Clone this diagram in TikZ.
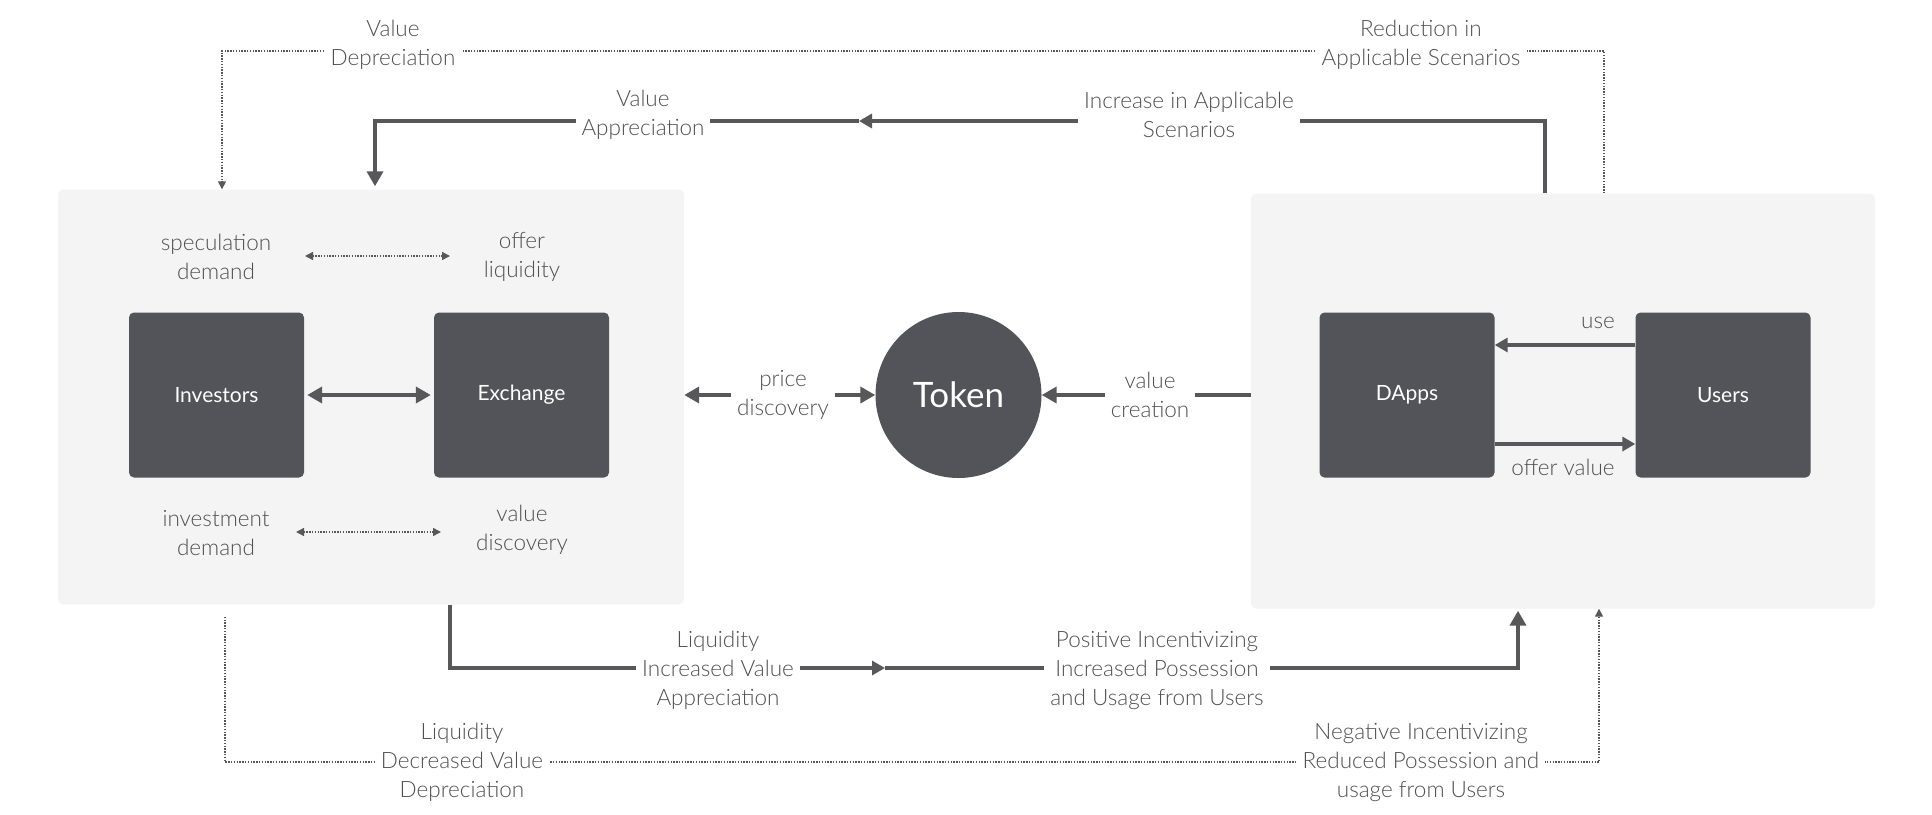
\documentclass[tikz,border=0pt]{standalone}
\usepackage{fontspec}
\IfFontExistsTF{Lato Light}{\setmainfont{Lato Light}}{\setmainfont{Lato}}
\newfontfamily\boxfont{Lato}
\usetikzlibrary{arrows.meta,calc}
\definecolor{panelgray}{HTML}{F4F4F4}
\definecolor{boxgray}{HTML}{525459}
\definecolor{linegray}{HTML}{58585A}
\definecolor{txtgray}{HTML}{505050}
\tikzset{
  panel/.style={fill=panelgray, draw=none, rounded corners=5pt, minimum width=#1},
  darkbox/.style={fill=boxgray, draw=none, rounded corners=5pt, text=white,
    minimum width=175pt, minimum height=165pt, font=\boxfont\fontsize{21}{25}\selectfont},
  lbl/.style={text=txtgray, align=center, font=\fontsize{22.5}{29}\selectfont, inner sep=0pt},
  gaplbl/.style={lbl, fill=white, inner xsep=6pt, inner ysep=3pt},
  thickline/.style={line width=4pt, draw=linegray},
  dotline/.style={line width=1.4pt, draw=linegray, dash pattern=on 1.4pt off 1.4pt},
  bigtip/.tip={Triangle[length=15pt,width=16pt]},
  midtip/.tip={Triangle[length=13pt,width=14pt]},
  smalltip/.tip={Triangle[length=8pt,width=8pt]}
}
\begin{document}
\begin{tikzpicture}[x=1pt,y=-1pt]
\useasboundingbox (0,0) rectangle (1932,814);
% panels
\node[panel=626pt, minimum height=415pt] (lp) at (371,397) {};
\node[panel=624pt, minimum height=415pt] (rp) at (1563,401) {};
% boxes
\node[darkbox] (inv) at (216.5,395) {Investors};
\node[darkbox] (exch) at (521.5,395) {Exchange};
\node[darkbox] (dapps) at (1407,395) {DApps};
\node[darkbox] (users) at (1723,395) {Users};
\node[circle, fill=boxgray, minimum size=166pt, inner sep=0pt, text=white,
      font=\boxfont\fontsize{35}{40}\selectfont] (token) at (958.5,395) {Token};
% helper coordinates
\coordinate (xA) at (1545,0);
\coordinate (xB) at (1604,0);
\coordinate (xC) at (375,0);
\coordinate (xD) at (222,0);
\coordinate (xE) at (450,0);
\coordinate (xF) at (1518,0);
\coordinate (xG) at (225,0);
\coordinate (xH) at (1599,0);
\coordinate (midT) at (859,121);
\coordinate (midB) at (885,668);
\coordinate (topD) at (0,51);
\coordinate (botD) at (0,762);
\coordinate (yuse) at (0,345);
\coordinate (yoff) at (0,444);
\coordinate (d1a) at (305,256);
\coordinate (d1b) at (450,256);
\coordinate (d2a) at (296,532);
\coordinate (d2b) at (441,532);
\coordinate (pdl) at (731,395);
\coordinate (pdr) at (835,395);
\coordinate (vcl) at (1105,395);
\coordinate (vcr) at (1195,395);
% top dotted
\draw[dotline, -{smalltip}] (rp.north -| xB) |- (topD -| xD) -- (lp.north -| xD);
% top thick
\draw[thickline, -{midtip}] (rp.north -| xA) |- (midT);
\draw[thickline, -{bigtip}, shorten >=3pt] (midT) -| (lp.north -| xC);
% bottom thick
\draw[thickline, -{midtip}] (lp.south -| xE) |- (midB);
\draw[thickline, -{bigtip}, shorten >=2pt] (midB) -| (rp.south -| xF);
% bottom dotted
\draw[dotline, -{smalltip}, shorten <=12pt] (lp.south -| xG) |- (botD -| xH) -- (rp.south -| xH);
% inner arrows
\draw[thickline, {bigtip}-{bigtip}, shorten <=3pt, shorten >=3pt] (inv.east) -- (exch.west);
\draw[dotline, {smalltip}-{smalltip}] (d1a) -- (d1b);
\draw[dotline, {smalltip}-{smalltip}] (d2a) -- (d2b);
\draw[thickline, -{bigtip}] (pdl) -- (lp.east |- pdl);
\draw[thickline, -{bigtip}] (pdr) -- (token.west);
\draw[thickline, -{bigtip}] (vcl) -- (token.east);
\draw[thickline] (vcr) -- (rp.west |- vcr);
\draw[thickline, -{midtip}] (users.west |- yuse) -- (dapps.east |- yuse);
\draw[thickline, -{midtip}] (dapps.east |- yoff) -- (users.west |- yoff);
% labels
\node[gaplbl] (lvd) at (393,45) {Value\\Depreciation};
\node[gaplbl] (lred) at (1421,45) {Reduction in\\Applicable Scenarios};
\node[gaplbl] (lva) at (643,115) {Value\\Appreciation};
\node[gaplbl] (linc) at (1189,115) {Increase in Applicable\\Scenarios};
\node[lbl] (lspec) at (216,257) {speculation\\demand};
\node[lbl] (loffl) at (522,257) {offer\\liquidity};
\node[lbl] (linvd) at (216,533) {investment\\demand};
\node[lbl] (lvdis) at (522,530) {value\\discovery};
\node[lbl] (lpd) at (783,395) {price\\discovery};
\node[lbl] (lvc) at (1150,395) {value\\creation};
\node[lbl] (luse) at (1598,323) {use};
\node[lbl] (loffv) at (1563,467) {offer value};
\node[gaplbl] (lliqi) at (718,670) {Liquidity\\Increased Value\\Appreciation};
\node[gaplbl] (lpos) at (1157,670) {Positive Incentivizing\\Increased Possession\\and Usage from Users};
\node[gaplbl] (lliqd) at (462,762) {Liquidity\\Decreased Value\\Depreciation};
\node[gaplbl] (lneg) at (1421,762) {Negative Incentivizing\\Reduced Possession and\\usage from Users};
\end{tikzpicture}
\end{document}
